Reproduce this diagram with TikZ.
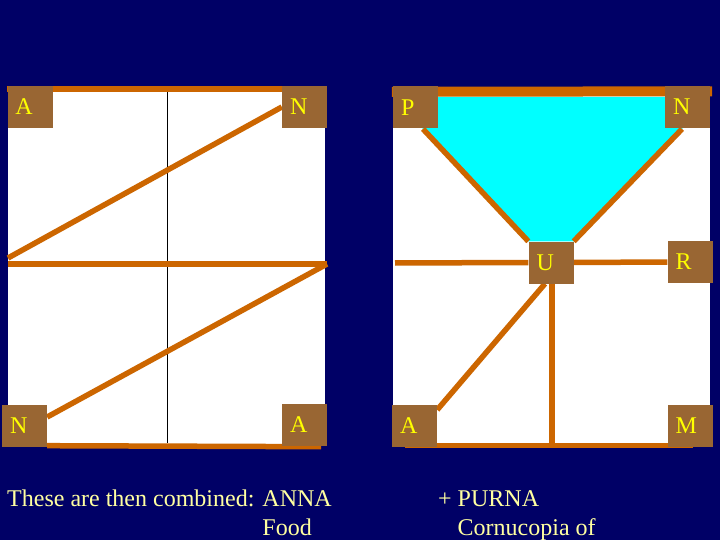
\documentclass[tikz,border=0pt]{standalone}
\usepackage{fontspec}
\setmainfont{Liberation Serif}
\usetikzlibrary{backgrounds}
\definecolor{navy}{RGB}{0,0,102}
\definecolor{ochre}{RGB}{204,102,0}
\definecolor{tilebrown}{RGB}{153,102,51}
\definecolor{gold}{RGB}{255,255,0}
\definecolor{cream}{RGB}{255,255,160}
\definecolor{aqua}{RGB}{0,255,255}
\begin{document}
\begin{tikzpicture}[x=1pt,y=-1pt,
    box/.style={fill=tilebrown,text=gold,minimum height=42pt,inner xsep=8pt,inner ysep=0pt,
                text width=29pt,align=left,font=\fontsize{24}{26}\selectfont},
    strap/.style={draw=ochre,line width=5.5pt},
    caption/.style={text=cream,inner sep=0pt,anchor=base west,font=\fontsize{24}{29}\selectfont}]
    \useasboundingbox (0,0) rectangle (720,540);

    \node[box] (la) at (30,107) {A};
    \node[box] (ln) at (304.5,107) {N};
    \node[box] (lnb) at (24.5,426) {N};
    \node[box] (lab) at (304.5,425) {A};

    \node[box] (rp) at (415.5,107.5) {P};
    \node[box] (rn) at (687.5,107) {N};
    \node[box] (ru) at (551,262.5) {U};
    \node[box] (rr) at (690,262) {R};
    \node[box] (ra) at (414.5,426) {A};
    \node[box] (rm) at (690,426) {M};

    \coordinate (lw1) at (8,258);
    \coordinate (lw2) at (8,264);
    \coordinate (le) at (327,264);
    \coordinate (rpd) at (423,129);
    \coordinate (rnd) at (682,129);
    \coordinate (rw) at (395,263);
    \coordinate (rbot) at (552,445);

    \node[caption] (t1) at (7,506)
        {\begin{tabular}[t]{@{}l@{ }l@{}}These are then combined: & ANNA\\ & Food\end{tabular}};
    \node[caption] (t2) at (438,506)
        {\begin{tabular}[t]{@{}l@{ }l@{}}+ & PURNA\\ & Cornucopia of\end{tabular}};

    \begin{pgfonlayer}{background}
    \fill[navy] (0,0) rectangle (720,540);
    \fill[white] (8,92) rectangle (325,444);
    \fill[white] (393,92) rectangle (710,445);
    \draw[black,line width=1pt] (167,92) -- (167,443);
    \fill[aqua] (393,97) -- (710,97) -- (rnd) -- (ru.north east) -- (ru.north west) -- (rpd) -- cycle;

    \draw[strap,line width=6pt] ([yshift=-3pt]la.north west) -- ([yshift=-3pt]ln.north east);
    \draw[strap] (ln.west) -- (lw1);
    \draw[strap] (lw2) -- (le);
    \draw[strap] (le) -- ([yshift=9pt]lnb.east);
    \draw[strap] ([yshift=1.5pt]lnb.south east) -- ([shift={(-6pt,-0.5pt)}]lab.south east);

    \draw[strap,line width=10pt] ([shift={(-1pt,-5.5pt)}]rp.north west) -- ([shift={(2pt,-5.5pt)}]rn.north east);
    \draw[strap] (rpd) -- (ru.north west);
    \draw[strap] (rnd) -- (ru.north east);
    \draw[strap] (rw) -- (ru.west);
    \draw[strap] (ru.east) -- (rr.west);
    \draw[strap] ([xshift=1pt]ru.south) -- (rbot);
    \draw[strap] ([xshift=-6pt]ru.south) -- ([yshift=-5pt]ra.north east);
    \draw[strap] ([shift={(13pt,1.5pt)}]ra.south west) -- ([shift={(-20pt,1.5pt)}]rm.south east);
    \end{pgfonlayer}
\end{tikzpicture}
\end{document}
